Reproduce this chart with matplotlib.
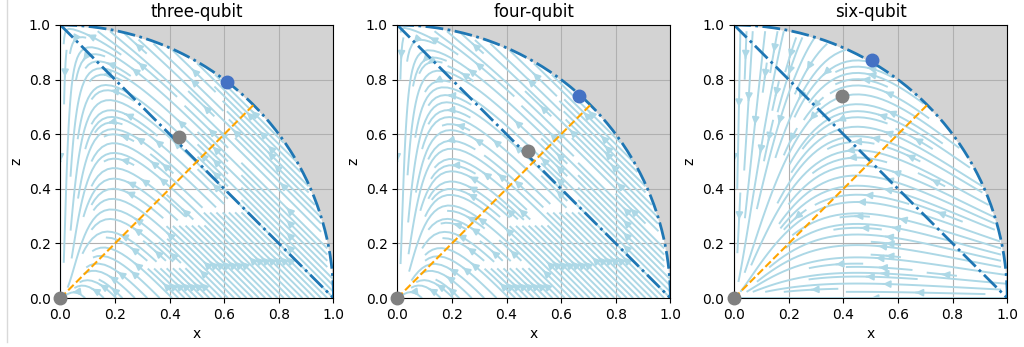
import numpy as np
import matplotlib.pyplot as plt
from matplotlib.lines import Line2D

titles = ['three-qubit', 'four-qubit', 'six-qubit']
# fixed point on the circle (blue) and on the inner line (gray)
blue_x = [0.61, 0.665, 0.505]
blue_z = [0.79, 0.74, 0.87]
gray_x = [0.435, 0.48, 0.395]
gray_z = [0.59, 0.54, 0.74]
# flow parameters per panel
flow_a = [1.0, 1.0, 0.0]     # diagonal drift
flow_b = [3.2, 3.0, 0.0]     # downward pull near x=0
flow_s = [0.14, 0.15, 0.1]   # width of that pull
flow_k = [0.0, 0.0, 3.0]     # arch strength
flow_c = [0.0, 0.0, 0.45]    # arch top

fig, axes = plt.subplots(1, 3, figsize=(10.24, 3.47), dpi=100)
fig.subplots_adjust(left=0.0586, right=0.984, bottom=0.141, top=0.928, wspace=0.23)

xs = np.linspace(0, 1, 200)
X, Z = np.meshgrid(xs, xs)
theta = np.linspace(0, np.pi / 2, 200)

for i, ax in enumerate(axes):
    #vector field, masked outside the unit circle
    U = -X
    V = (flow_a[i] * X - flow_b[i] * Z * (1 - Z) * np.exp(-X / flow_s[i])
         + flow_k[i] * Z * (X - flow_c[i]))
    out = X**2 + Z**2 > 1
    U = np.ma.array(U, mask=out)
    V = np.ma.array(V, mask=out)
    ax.streamplot(X, Z, U, V, color='lightblue', density=1.5, linewidth=1.4,
                  arrowsize=1)

    #gray area outside the circle
    ax.fill_between(xs, np.sqrt(np.clip(1 - xs**2, 0, 1)), 1, color='lightgray', zorder=0)

    ax.plot(np.cos(theta), np.sin(theta), '-.', color='tab:blue', lw=2)
    ax.plot([0, 1], [1, 0], '-.', color='tab:blue', lw=2)
    r = np.sqrt(0.5)
    ax.plot([0, r], [0, r], '--', color='orange', lw=1.5)

    ax.plot(blue_x[i], blue_z[i], 'o', color='#4472c4', ms=9, zorder=5, clip_on=False)
    ax.plot(gray_x[i], gray_z[i], 'o', color='gray', ms=9, zorder=5, clip_on=False)
    ax.plot(0, 0, 'o', color='gray', ms=9, zorder=5, clip_on=False)

    ax.set(xlim=(0, 1), ylim=(0, 1))
    ax.set_aspect(1)
    ax.grid(True)
    ax.set_title(titles[i])
    ax.set_xlabel('x')
    ax.set_ylabel('z')

fig.add_artist(Line2D([7 / 1024, 7 / 1024], [0.015, 1], color='#d9d9d9', lw=1))

fig.savefig('out.png')
